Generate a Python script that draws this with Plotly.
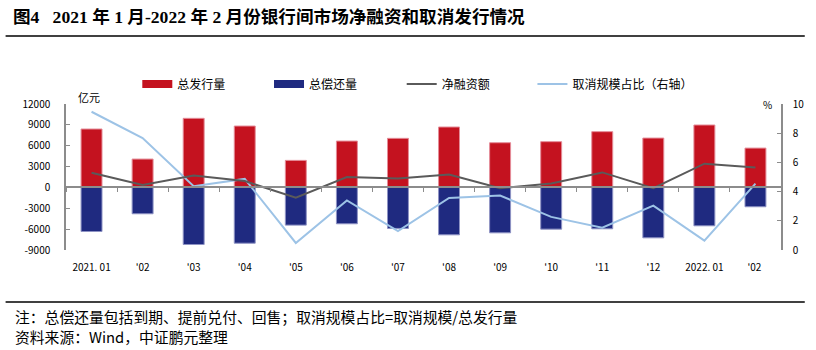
import plotly.graph_objects as go

categories = ["2021. 01", "'02", "'03", "'04", "'05", "'06", "'07", "'08",
              "'09", "'10", "'11", "'12", "2022. 01", "'02 "]
issuance = [8400, 4080, 9940, 8830, 3890, 6670, 7060, 8690, 6430, 6580, 8020, 7100, 8980, 5660]
repayment = [-6340, -3790, -8210, -8020, -5420, -5230, -5900, -6820, -6530, -6000, -5950, -7250, -5520, -2780]
net_financing = [2110, 340, 1730, 910, -1490, 1490, 1300, 1870, -100, 580, 2160, -100, 3410, 2880]
cancel_ratio = [9.47, 7.67, 4.37, 4.87, 0.48, 3.39, 1.30, 3.57, 3.73, 2.27, 1.53, 3.04, 0.64, 4.55]

left_ticks = [12000, 9000, 6000, 3000, 0, -3000, -6000, -9000]
right_ticks = [0, 2, 4, 6, 8, 10]

W, H = 816, 350
L, R, T, B = 66, 788, 104, 250


def px_x(x):
    return (x - L) / (R - L)


def px_y(y):
    return (B - y) / (B - T)


RED = "#C4121F"
BLUE = "#1F2A80"
GRAY = "#5A5A5A"
LBLUE = "#9DC3E6"
AXIS = "#8C8C8C"
FONT = "Noto Sans CJK SC, DejaVu Sans, sans-serif"

fig = go.Figure()
fig.add_trace(go.Bar(x=categories, y=issuance, name="总发行量", marker=dict(color=RED, line=dict(color="#E48C98", width=1)), showlegend=False))
fig.add_trace(go.Bar(x=categories, y=repayment, name="总偿还量", marker=dict(color=BLUE, line=dict(color="#8E93C4", width=1)), showlegend=False))
fig.add_trace(go.Scatter(x=categories, y=net_financing, name="净融资额", mode="lines", line=dict(color=GRAY, width=2), xaxis="x2", yaxis="y", showlegend=False))
fig.add_trace(go.Scatter(x=categories, y=cancel_ratio, name="取消规模占比（右轴）", mode="lines", line=dict(color=LBLUE, width=2), yaxis="y2", showlegend=False))

# legend entries, each in its own legend box
legend_items = [("总发行量", RED, 8, 138), ("总偿还量", BLUE, 8, 271), ("净融资额", GRAY, 2, 405), ("取消规模占比（右轴）", LBLUE, 2, 537)]
legend_layout = {}
for i, (name, color, w, xpx) in enumerate(legend_items):
    key = "legend" if i == 0 else f"legend{i + 1}"
    fig.add_trace(go.Scatter(x=[None], y=[None], mode="lines", name=name, line=dict(color=color, width=w),
                             showlegend=True, legend=key))
    legend_layout[key] = dict(orientation="h", x=px_x(xpx), y=px_y(84), xanchor="left", yanchor="middle",
                              itemwidth=30, font=dict(family=FONT, size=12, color="#000"),
                              bgcolor="rgba(0,0,0,0)")

fig.update_layout(
    width=W, height=H,
    margin=dict(l=L, r=W - R, t=T, b=H - B, pad=0),
    paper_bgcolor="white", plot_bgcolor="white",
    barmode="relative", bargap=0.59,
    font=dict(family=FONT, size=10, color="#000"),
    showlegend=True,
    xaxis=dict(type="category", categoryorder="array", categoryarray=categories, range=[-0.5, 13.5],
               showline=False, ticks="", showgrid=False, ticklabelstandoff=10,
               tickfont=dict(family=FONT, size=10, color="#000")),
    xaxis2=dict(type="category", categoryorder="array", categoryarray=categories, range=[-0.5, 13.5],
                overlaying="x", anchor="free", position=9 / 21, showline=True, linecolor=AXIS, linewidth=1.5,
                ticks="outside", tickson="boundaries", ticklen=4, tickcolor=AXIS, showticklabels=False, showgrid=False),
    yaxis=dict(range=[-9000, 12000], tickvals=left_ticks, ticktext=[str(v) for v in left_ticks],
               showline=True, linecolor=AXIS, linewidth=1.5, ticks="inside", ticklen=4, tickcolor=AXIS,
               showgrid=False, zeroline=False, ticklabelstandoff=12,
               tickfont=dict(family=FONT, size=10, color="#000")),
    yaxis2=dict(range=[0, 10], tickvals=right_ticks, overlaying="y", side="right", anchor="x",
                showline=True, linecolor=AXIS, linewidth=1.5, ticks="inside", ticklen=4, tickcolor=AXIS,
                showgrid=False, zeroline=False, ticklabelstandoff=8,
                tickfont=dict(family=FONT, size=10, color="#000")),
    **legend_layout,
)

TITLE = "图4   2021 年 1 月-2022 年 2 月份银行间市场净融资和取消发行情况"
NOTE1 = "注：总偿还量包括到期、提前兑付、回售；取消规模占比=取消规模/总发行量"
NOTE2 = "资料来源：Wind，中证鹏元整理"

annots = [
    dict(text="<b>" + TITLE + "</b>", x=px_x(10), y=px_y(17), font=dict(family="Liberation Serif, Noto Sans CJK SC", size=17.6, color="#000")),
    dict(text="亿元", x=px_x(76), y=px_y(97), font=dict(family=FONT, size=11, color="#000")),
    dict(text="%", x=px_x(768), y=px_y(104), font=dict(family=FONT, size=10, color="#000")),
    dict(text=NOTE1, x=px_x(12), y=px_y(316), font=dict(family=FONT, size=14.8, color="#000")),
    dict(text=NOTE2, x=px_x(12), y=px_y(336), font=dict(family=FONT, size=14.8, color="#000")),
]
for a in annots:
    fig.add_annotation(xref="paper", yref="paper", xanchor="left", yanchor="middle", showarrow=False, **a)

fig.add_shape(type="line", xref="paper", yref="paper", x0=px_x(5), x1=px_x(812), y0=px_y(36), y1=px_y(36), line=dict(color="#000", width=1.5))
fig.add_shape(type="line", xref="paper", yref="paper", x0=px_x(5), x1=px_x(812), y0=px_y(302), y1=px_y(302), line=dict(color="#000", width=1.5))

fig.write_html("out.html")
